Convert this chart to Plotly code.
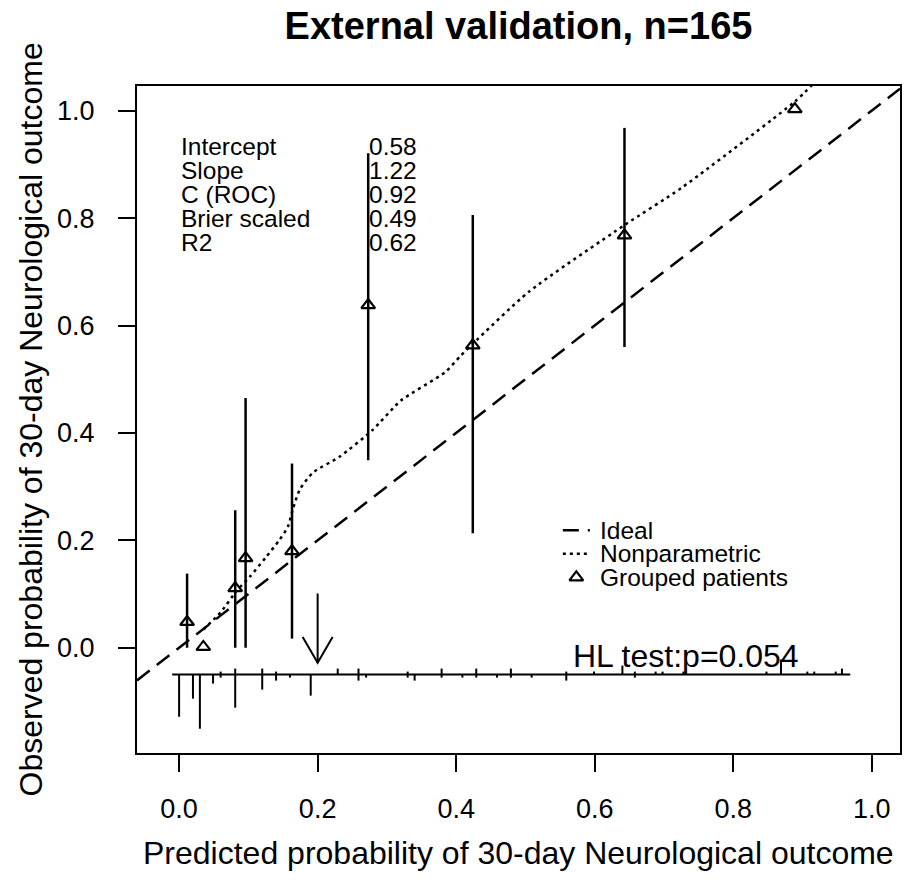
import plotly.graph_objects as go

# ---------------- data ----------------
pred_x = [0.0115, 0.035, 0.081, 0.096, 0.163, 0.273, 0.424, 0.643, 0.889]
obs_y = [0.048, 0.0015, 0.111, 0.167, 0.180, 0.638, 0.563, 0.768, 1.003]
ci_lo = [0.0, None, 0.0, 0.0, 0.017, 0.349, 0.213, 0.560, None]
ci_hi = [0.138, None, 0.256, 0.465, 0.343, 0.921, 0.806, 0.968, None]

np_x = [0.035, 0.060, 0.083, 0.102, 0.125, 0.145, 0.157, 0.164, 0.174, 0.193,
        0.232, 0.279, 0.320, 0.384, 0.406, 0.424, 0.505, 0.643, 0.725, 0.889, 0.914]
np_y = [0.034, 0.066, 0.106, 0.132, 0.168, 0.201, 0.225, 0.257, 0.294, 0.326,
        0.356, 0.405, 0.460, 0.513, 0.543, 0.566, 0.663, 0.787, 0.856, 1.017, 1.048]

ideal_x = [-0.0608, 1.0408]

# rug (histogram spikes): non-events below, events above
nonevent_x = [0.000, 0.020, 0.030, 0.049, 0.060, 0.081, 0.120, 0.140, 0.160, 0.190,
              0.259, 0.270, 0.330, 0.340, 0.379, 0.409, 0.429, 0.459, 0.479, 0.509,
              0.559, 0.658]
nonevent_n = [14, 8, 18, 3, 1, 11, 5, 2, 1, 7,
              2, 1, 1, 2, 1, 1, 1, 1, 1, 1,
              2, 1]
event_x = [0.060, 0.081, 0.120, 0.140, 0.229, 0.259, 0.330, 0.379, 0.429, 0.479,
           0.559, 0.599, 0.640, 0.658, 0.688, 0.698, 0.728, 0.848, 0.869, 0.907,
           0.917, 0.948, 0.957]
event_n = [1, 2, 2, 1, 2, 2, 1, 2, 2, 2,
           1, 1, 3, 1, 1, 1, 1, 1, 5, 1,
           1, 1, 2]
rug_span = [-0.010, 0.969]

cutoff = 0.20

stat_labels = ["Intercept", "Slope", "C (ROC)", "Brier scaled", "R2"]
stat_values = [0.58, 1.22, 0.92, 0.49, 0.62]

legend_labels = ["Ideal", "Nonparametric", "Grouped patients"]

tick_vals = [0.0, 0.2, 0.4, 0.6, 0.8, 1.0]
tick_text = ["0.0", "0.2", "0.4", "0.6", "0.8", "1.0"]

title_text = "External validation, n=165"
x_title = "Predicted probability of 30-day Neurological outcome"
y_title = "Observed probability of 30-day Neurological outcome"
hl_text = "HL test:p=0.054"

# ---------------- layout constants ----------------
FONT = "Liberation Sans, Arial, Helvetica, sans-serif"
XR = [-0.0608, 1.0408]
YR = [-0.196, 1.046]
RUG_BASE = -0.050
RUG_UNIT = 0.0056
DASH = "16px,9px"
DOT = "3px,4px"
LW = 2.5
TRI = dict(symbol="triangle-up-open", size=12, color="black", line=dict(width=2.2, color="black"))

fig = go.Figure()

# ideal line
fig.add_trace(go.Scatter(x=ideal_x, y=ideal_x, mode="lines",
                         line=dict(color="black", width=LW, dash=DASH),
                         hoverinfo="skip"))
# nonparametric
fig.add_trace(go.Scatter(x=np_x, y=np_y, mode="lines",
                         line=dict(color="black", width=LW, dash=DOT, shape="spline", smoothing=0.6),
                         hoverinfo="skip"))

# error bars
ex, ey = [], []
for xv, lo, hi in zip(pred_x, ci_lo, ci_hi):
    if lo is None:
        continue
    ex += [xv, xv, None]
    ey += [lo, hi, None]
fig.add_trace(go.Scatter(x=ex, y=ey, mode="lines",
                         line=dict(color="black", width=LW), hoverinfo="skip"))

# grouped patients
fig.add_trace(go.Scatter(x=pred_x, y=obs_y, mode="markers", marker=TRI, hoverinfo="skip"))

# rug
rx, ry = [rug_span[0], rug_span[1], None], [RUG_BASE, RUG_BASE, None]
for xv, n in zip(nonevent_x, nonevent_n):
    rx += [xv, xv, None]
    ry += [RUG_BASE, RUG_BASE - n * RUG_UNIT, None]
for xv, n in zip(event_x, event_n):
    rx += [xv, xv, None]
    ry += [RUG_BASE, RUG_BASE + n * RUG_UNIT, None]
fig.add_trace(go.Scatter(x=rx, y=ry, mode="lines",
                         line=dict(color="black", width=2), hoverinfo="skip"))

# arrow at cutoff
a_top, a_tip, a_dx, a_dy = 0.101, -0.028, 0.0216, 0.048
fig.add_trace(go.Scatter(x=[cutoff, cutoff, None, cutoff - a_dx, cutoff, cutoff + a_dx],
                         y=[a_top, a_tip, None, a_tip + a_dy, a_tip, a_tip + a_dy],
                         mode="lines", line=dict(color="black", width=2), hoverinfo="skip"))

annotations = []
# stats
s_y0, s_step = 0.933, 0.0445
for i, (lab, val) in enumerate(zip(stat_labels, stat_values)):
    yy = s_y0 - i * s_step
    annotations.append(dict(x=0.0, y=yy, xref="x", yref="y", text=lab, showarrow=False,
                            xanchor="left", yanchor="middle", font=dict(size=24.5, family=FONT, color="black")))
    annotations.append(dict(x=0.271, y=yy, xref="x", yref="y", text=f"{val:.2f}", showarrow=False,
                            xanchor="left", yanchor="middle", font=dict(size=24.5, family=FONT, color="black")))

# legend (manual)
l_y0, l_step = 0.219, 0.044
lx0, lx1, ltext = 0.554, 0.593, 0.605
fig.add_trace(go.Scatter(x=[lx0, lx1], y=[l_y0, l_y0], mode="lines",
                         line=dict(color="black", width=LW, dash=DASH), hoverinfo="skip"))
fig.add_trace(go.Scatter(x=[lx0, lx1], y=[l_y0 - l_step, l_y0 - l_step], mode="lines",
                         line=dict(color="black", width=LW, dash=DOT), hoverinfo="skip"))
fig.add_trace(go.Scatter(x=[(lx0 + lx1) / 2], y=[l_y0 - 2 * l_step], mode="markers",
                         marker=TRI, hoverinfo="skip"))
for i, lab in enumerate(legend_labels):
    annotations.append(dict(x=ltext, y=l_y0 - i * l_step, xref="x", yref="y", text=lab, showarrow=False,
                            xanchor="left", yanchor="middle", font=dict(size=24.5, family=FONT, color="black")))

# HL test
annotations.append(dict(x=0.566, y=-0.016, xref="x", yref="y", text=hl_text, showarrow=False,
                        xanchor="left", yanchor="middle", font=dict(size=32, family=FONT, color="black")))

# axis titles
annotations.append(dict(x=0.5, y=0, xref="paper", yref="paper", yshift=-100, text=x_title,
                        showarrow=False, xanchor="center", yanchor="middle",
                        font=dict(size=32, family=FONT, color="black")))
annotations.append(dict(x=0, y=0.5, xref="paper", yref="paper", xshift=-107, text=y_title,
                        showarrow=False, xanchor="center", yanchor="middle", textangle=-90,
                        font=dict(size=32, family=FONT, color="black")))

fig.update_layout(
    width=904, height=886,
    margin=dict(l=137, r=4, t=86, b=133, autoexpand=False),
    paper_bgcolor="white", plot_bgcolor="white",
    showlegend=False,
    title=dict(text=f"<b>{title_text}</b>", x=0.5, xref="paper", y=1 - 26 / 886, yref="container",
               xanchor="center", yanchor="middle", font=dict(size=38, family=FONT, color="black")),
    annotations=annotations,
)
fig.update_xaxes(range=XR, showgrid=False, zeroline=False, showline=True, mirror=True,
                 linecolor="black", linewidth=2, ticks="outside", ticklen=17, tickwidth=2,
                 tickcolor="black", tickvals=tick_vals, ticktext=tick_text, ticklabelstandoff=14,
                 automargin=False, tickfont=dict(size=27, family=FONT, color="black"))
fig.update_yaxes(range=YR, showgrid=False, zeroline=False, showline=True, mirror=True,
                 linecolor="black", linewidth=2, ticks="outside", ticklen=17, tickwidth=2,
                 tickcolor="black", tickvals=tick_vals, ticktext=tick_text, ticklabelstandoff=18,
                 automargin=False, tickfont=dict(size=27, family=FONT, color="black"))

fig.write_html("out.html", config={"displayModeBar": False, "staticPlot": True},
               post_script="document.body.style.margin='0';document.body.style.overflow='hidden';")
